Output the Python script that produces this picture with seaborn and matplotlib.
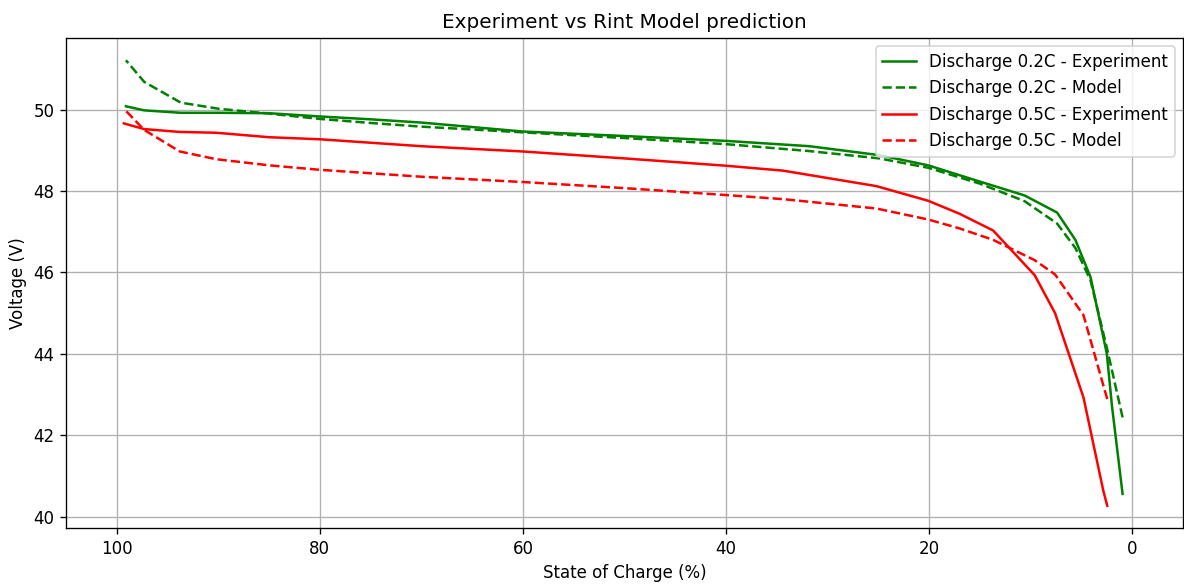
import matplotlib
matplotlib.use("Agg")
import matplotlib.pyplot as plt
import seaborn as sns
import pandas as pd

# State of charge (%) sample points for each C-rate
soc_02c = [99.1, 97.3, 93.7, 90, 85, 80, 75, 70, 60, 50, 40, 31.8, 24.9, 20.1,
           15, 10.6, 7.4, 5.6, 4.1, 2.5, 2.0, 0.95]
soc_05c = [99.3, 97.3, 93.8, 90.2, 85, 80, 70, 60, 50, 40, 34.4, 25.2, 20.1,
           17, 13.7, 9.6, 7.6, 4.8, 2.85, 2.46]

# Terminal voltage (V)
v_02c_exp = [50.08, 49.98, 49.92, 49.92, 49.91, 49.83, 49.76, 49.68, 49.46, 49.35,
             49.23, 49.10, 48.88, 48.63, 48.23, 47.89, 47.47, 46.80, 45.88, 44.00,
             42.73, 40.56]
v_02c_model = [51.21, 50.68, 50.17, 50.02, 49.90, 49.77, 49.67, 49.58, 49.44, 49.30,
               49.15, 48.98, 48.80, 48.57, 48.18, 47.75, 47.20, 46.60, 45.80, 44.15,
               43.60, 42.44]
v_05c_exp = [49.66, 49.52, 49.45, 49.43, 49.32, 49.27, 49.10, 48.97, 48.80, 48.62,
             48.50, 48.12, 47.76, 47.44, 47.03, 45.93, 45.00, 42.93, 40.64, 40.27]
v_05c_model = [50.02, 49.50, 48.97, 48.78, 48.63, 48.52, 48.35, 48.22, 48.07, 47.90,
               47.80, 47.57, 47.30, 47.08, 46.80, 46.30, 45.95, 44.95, 43.23, 42.89]

series = [
    ("Discharge 0.2C - Experiment", soc_02c, v_02c_exp, "green", "-"),
    ("Discharge 0.2C - Model", soc_02c, v_02c_model, "green", "--"),
    ("Discharge 0.5C - Experiment", soc_05c, v_05c_exp, "red", "-"),
    ("Discharge 0.5C - Model", soc_05c, v_05c_model, "red", "--"),
]

DPI = 120
fig = plt.figure(figsize=(1184 / DPI, 585 / DPI), dpi=DPI)
ax = fig.add_axes([66 / 1184, (585 - 528) / 585, (1183 - 66) / 1184, (528 - 38) / 585])

for label, soc, volt, color, ls in series:
    df = pd.DataFrame({"soc": soc, "v": volt})
    sns.lineplot(data=df, x="soc", y="v", ax=ax, color=color, linestyle=ls,
                 label=label, errorbar=None, linewidth=1.5)

ax.set_xlim(105, -5)
ax.set_xticks([100, 80, 60, 40, 20, 0])
ax.set_yticks([40, 42, 44, 46, 48, 50])
ax.set_xlabel("State of Charge (%)")
ax.set_ylabel("Voltage (V)")
ax.set_title("Experiment vs Rint Model prediction")
ax.grid(True)
ax.legend(loc="upper right")

fig.savefig("out.png", dpi=DPI)
